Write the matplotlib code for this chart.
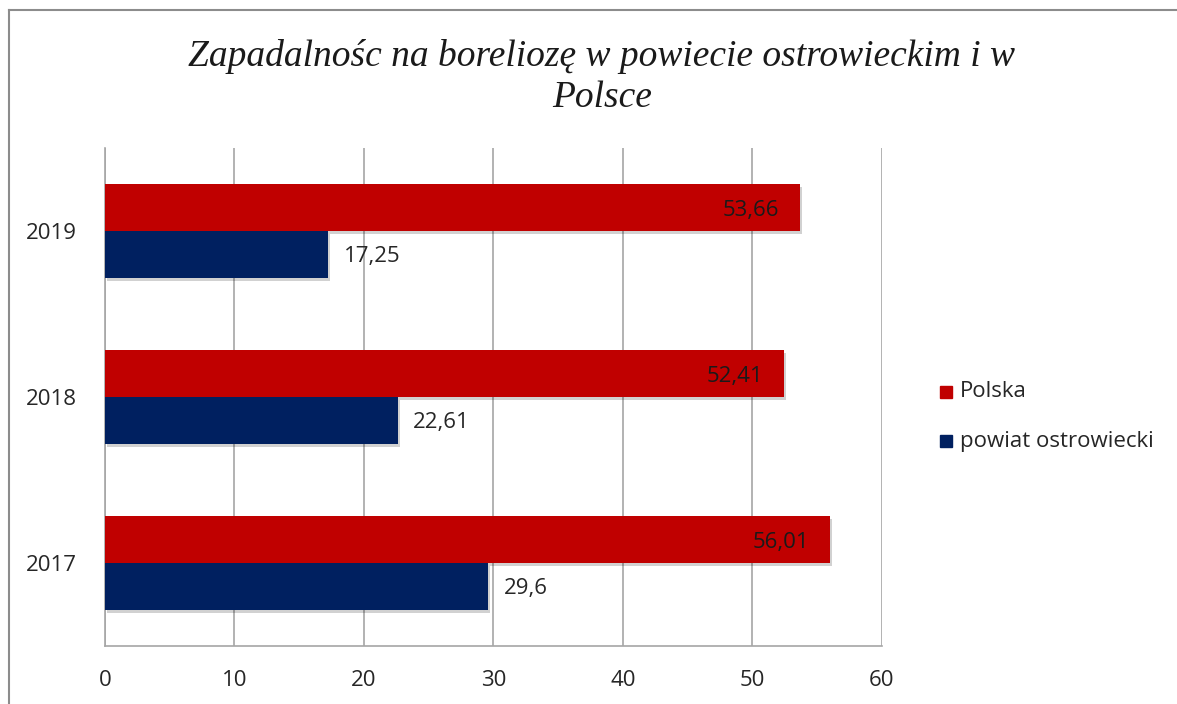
import matplotlib
matplotlib.use("Agg")
import matplotlib.pyplot as plt
import matplotlib.patheffects as pe
from matplotlib.lines import Line2D
from matplotlib.patches import Rectangle
import numpy as np

years = ["2017", "2018", "2019"]
polska = [56.01, 52.41, 53.66]
powiat = [29.6, 22.61, 17.25]
series_names = ["Polska", "powiat ostrowiecki"]
x_ticks = [0, 10, 20, 30, 40, 50, 60]

RED = "#C00000"
NAVY = "#002060"
GRID = "#A6A6A6"
TEXT = "#262626"

plt.rcParams["font.family"] = ["Open Sans", "DejaVu Sans"]

fig = plt.figure(figsize=(11.77, 7.04), dpi=100)
W, H = 1177, 704

# outer chart frame (top and left edges visible)
fig.add_artist(Line2D([9 / W, 1.0], [1 - 10 / H, 1 - 10 / H], color="#8C8C8C", lw=1.5,
                      transform=fig.transFigure))
fig.add_artist(Line2D([9 / W, 9 / W], [0.0, 1 - 10 / H], color="#8C8C8C", lw=1.5,
                      transform=fig.transFigure))

ax = fig.add_axes([105 / W, 58 / H, (882 - 105) / W, (646 - 148) / H])

y = np.arange(len(years))
h = 0.283
shadow = [pe.SimplePatchShadow(offset=(1.5, -2.5), shadow_rgbFace="#000000", alpha=0.18), pe.Normal()]

bars_pl = ax.barh(y + h / 2, polska, height=h, color=RED, zorder=3)
bars_pw = ax.barh(y - h / 2, powiat, height=h, color=NAVY, zorder=3)
for b in list(bars_pl) + list(bars_pw):
    b.set_path_effects(shadow)

lbl_dy = -0.015
for b, v in zip(bars_pl, polska):
    ax.text(v - 1.6, b.get_y() + b.get_height() / 2 + lbl_dy, f"{v:g}".replace(".", ","),
            ha="right", va="center", fontsize=16, color="#1a1a1a", zorder=4)
for b, v in zip(bars_pw, powiat):
    ax.text(v + 1.2, b.get_y() + b.get_height() / 2 + lbl_dy, f"{v:g}".replace(".", ","),
            ha="left", va="center", fontsize=16, color=TEXT, zorder=4)

ax.set_xlim(0, 60)
ax.set_ylim(-0.5, 2.5)
ax.set_xticks(x_ticks)
ax.set_yticks(y)
ax.set_yticklabels(years)
ax.tick_params(axis="both", length=0, labelsize=16, colors=TEXT)
ax.tick_params(axis="x", pad=17)
ax.tick_params(axis="y", pad=20)
ax.grid(axis="x", color=GRID, lw=1.2, zorder=0)
for s in ["top", "right"]:
    ax.spines[s].set_visible(False)
for s in ["left", "bottom"]:
    ax.spines[s].set_color(GRID)
    ax.spines[s].set_linewidth(1.2)

fig.text(602 / W, 1 - 77 / H, "Zapadalnośc na boreliozę w powiecie ostrowieckim i w\nPolsce",
         ha="center", va="center", fontsize=27, style="italic",
         family=["Liberation Serif", "DejaVu Serif"], color="#1a1a1a", linespacing=1.27)

# legend
for i, (name, col) in enumerate(zip(series_names, [RED, NAVY])):
    yy = 1 - (392 + 49 * i) / H
    fig.add_artist(Rectangle((940 / W, yy - 6 / H), 12 / W, 12 / H, color=col,
                             transform=fig.transFigure))
    fig.text(960 / W, yy, name, ha="left", va="center", fontsize=16, color=TEXT)

fig.savefig("out.png", dpi=100)
